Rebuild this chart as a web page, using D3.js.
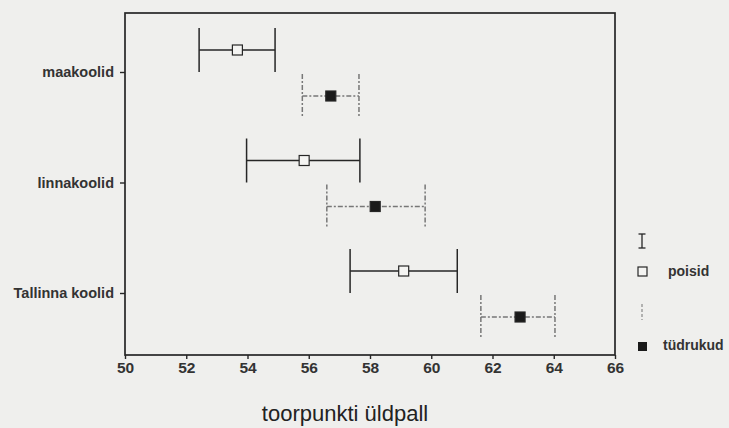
<!DOCTYPE html>
<html>
<head>
<meta charset="utf-8">
<script src="https://cdn.jsdelivr.net/npm/d3@7"></script>
<style>
  body { margin: 0; background: #efefed; }
  text { font-family: Arial, "Liberation Sans", sans-serif; }
</style>
</head>
<body>
<div id="chart"></div>
<script>
// schools, top to bottom
const schools = ["maakoolid", "linnakoolid", "Tallinna koolid"];

// poisid (boys): mean, lower, upper
const boysMean = [53.67, 55.85, 59.1];
const boysLow  = [52.42, 53.97, 57.35];
const boysHigh = [54.9, 57.67, 60.85];

// tüdrukud (girls)
const girlsMean = [56.72, 58.17, 62.9];
const girlsLow  = [55.79, 56.59, 61.62];
const girlsHigh = [57.64, 59.8, 64.04];

const xTicks = [50, 52, 54, 56, 58, 60, 62, 64, 66];

let width = 729, height = 428;
let margin = {top: 13, right: 114, bottom: 73, left: 125};
let ink = "#262626";

let svg = d3.select("#chart").append("svg")
  .attr("width", width)
  .attr("height", height);

let x = d3.scaleLinear()
  .domain([50, 66])
  .range([margin.left, width - margin.right]);

let y = d3.scalePoint()
  .domain(schools)
  .range([72, 293]);

let off = 22; // boys above tick, girls below

// frame
svg.append("rect")
  .attr("x", margin.left).attr("y", margin.top)
  .attr("width", x(66) - x(50))
  .attr("height", height - margin.bottom - margin.top)
  .attr("fill", "none").attr("stroke", ink).attr("stroke-width", 1.7);

let xAxis = svg.append("g")
  .attr("transform", `translate(0,${height - margin.bottom})`)
  .call(d3.axisBottom(x).tickValues(xTicks).tickSize(4).tickPadding(3));
xAxis.select(".domain").remove();
xAxis.selectAll("line").attr("stroke", ink).attr("stroke-width", 1.4);
xAxis.selectAll("text").attr("font-size", 15.5).attr("font-weight", "bold")
  .attr("fill", "#333");

let yAxis = svg.append("g")
  .attr("transform", `translate(${margin.left},0)`)
  .call(d3.axisLeft(y).tickSize(5).tickPadding(6));
yAxis.select(".domain").remove();
yAxis.selectAll("line").attr("stroke", ink).attr("stroke-width", 1.4);
yAxis.selectAll("text").attr("font-size", 14.5).attr("font-weight", "bold")
  .attr("fill", "#333");

function errorBars(mean, low, high, dy, dashed) {
  let g = svg.append("g");
  let stroke = dashed ? "#777" : ink;
  let dash = dashed ? "5,2,2,2" : null;
  schools.forEach(function (s, i) {
    let cy = y(s) + dy;
    g.append("line")
      .attr("x1", x(low[i])).attr("x2", x(high[i]))
      .attr("y1", cy).attr("y2", cy)
      .attr("stroke", stroke).attr("stroke-width", 1.3)
      .attr("stroke-dasharray", dash);
    [low[i], high[i]].forEach(function (v) {
      g.append("line")
        .attr("x1", x(v)).attr("x2", x(v))
        .attr("y1", cy - 22).attr("y2", cy + 22)
        .attr("stroke", stroke).attr("stroke-width", 1.5)
        .attr("stroke-dasharray", dash);
    });
    g.append("rect")
      .attr("x", x(mean[i]) - 5).attr("y", cy - 5)
      .attr("width", 10).attr("height", 10)
      .attr("fill", dashed ? "#1a1a1a" : "#f4f4f2")
      .attr("stroke", ink).attr("stroke-width", 1.2);
  });
}

errorBars(boysMean, boysLow, boysHigh, -off, false);
errorBars(girlsMean, girlsLow, girlsHigh, off + 2, true);

// legend
let lx = 642;
let leg = svg.append("g");
leg.append("line").attr("x1", lx).attr("x2", lx).attr("y1", 234).attr("y2", 248)
  .attr("stroke", ink).attr("stroke-width", 1.3);
[234, 248].forEach(function (v) {
  leg.append("line").attr("x1", lx - 3.5).attr("x2", lx + 3.5).attr("y1", v).attr("y2", v)
    .attr("stroke", ink).attr("stroke-width", 1.3);
});
leg.append("rect").attr("x", lx - 4).attr("y", 267).attr("width", 9).attr("height", 9)
  .attr("fill", "#f4f4f2").attr("stroke", ink).attr("stroke-width", 1.2);
leg.append("text").attr("x", 668).attr("y", 276).attr("font-size", 14)
  .attr("font-weight", "bold").attr("fill", "#333").text("poisid");

leg.append("line").attr("x1", lx).attr("x2", lx).attr("y1", 304).attr("y2", 320)
  .attr("stroke", "#888").attr("stroke-width", 1.2).attr("stroke-dasharray", "3,2");
leg.append("rect").attr("x", lx - 4).attr("y", 342).attr("width", 9).attr("height", 9)
  .attr("fill", "#1a1a1a");
leg.append("text").attr("x", 663).attr("y", 350).attr("font-size", 14)
  .attr("font-weight", "bold").attr("fill", "#333").text("tüdrukud");

// axis title
svg.append("text")
  .attr("x", 345)
  .attr("y", 421)
  .attr("text-anchor", "middle")
  .attr("font-size", 22)
  .attr("fill", "#222")
  .text("toorpunkti üldpall");
</script>
</body>
</html>
